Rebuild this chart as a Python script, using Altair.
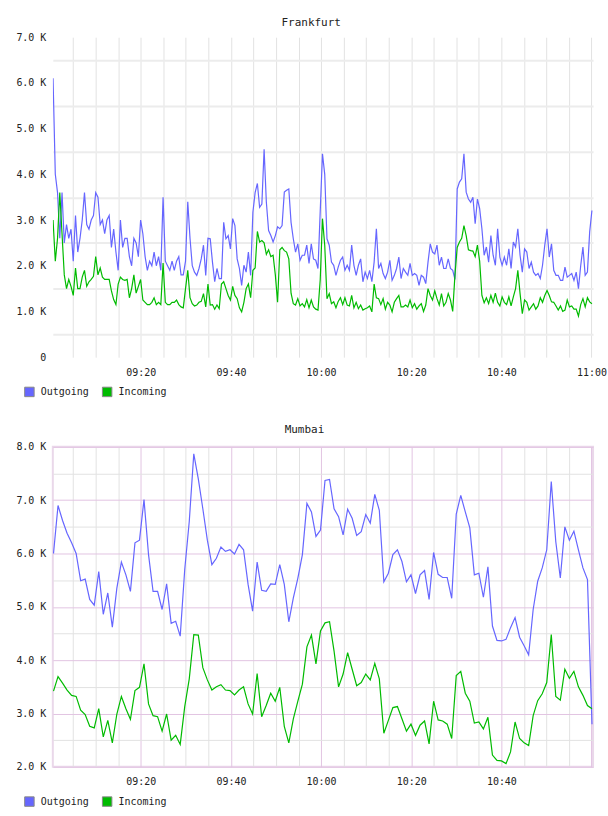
import altair as alt
import pandas as pd

# ---------------- data (values in thousands) ----------------
series_names = ["Outgoing", "Incoming"]
series_colors = ["#6666ff", "#00bb00"]

fra_out = [
    6.1, 4.0, 3.6, 2.6, 3.6, 2.5, 2.9, 2.6, 2.8, 2.1,
    3.1, 2.3, 2.6, 3.0, 3.6, 2.9, 2.8, 3.0, 3.1, 3.6,
    3.5, 2.9, 3.0, 2.7, 3.0, 3.1, 2.4, 2.8, 2.3, 1.9,
    3.0, 2.4, 2.6, 2.6, 2.2, 2.0, 2.6, 2.5, 2.2, 3.0,
    2.7, 2.2, 1.9, 2.1, 2.0, 2.3, 2.0, 2.2, 1.9, 3.5,
    2.1, 2.0, 1.9, 2.1, 1.9, 2.1, 2.2, 1.8, 1.8, 2.1,
    3.4, 2.6, 2.0, 1.86, 1.79, 1.94, 2.15, 2.45, 1.79, 2.6,
    2.59, 2.08, 1.65, 1.94, 1.72, 1.72, 2.95, 2.59, 2.66, 2.37,
    3.03, 2.88, 2.15, 1.94, 1.57, 2.01, 1.86, 2.3, 1.79, 3.17,
    3.6, 3.8, 3.28, 3.35, 4.55, 3.39, 2.77, 2.66, 2.52, 2.66,
    2.85, 2.81, 2.88, 3.61, 3.65, 3.68, 2.95, 2.59, 2.3, 2.48,
    2.12, 2.23, 2.23, 2.45, 2.05, 2.48, 2.15, 2.12, 1.94, 3.2,
    4.45, 4.0, 2.59, 2.45, 2.08, 2.01, 1.79, 1.97, 2.12, 2.19,
    1.9, 2.01, 1.9, 2.45, 2.01, 1.79, 2.01, 2.15, 1.65, 1.86,
    1.72, 1.9, 1.65, 2.08, 2.81, 1.94, 2.05, 1.83, 1.72, 1.86,
    2.12, 1.68, 1.79, 1.94, 2.19, 1.72, 1.94, 1.86, 1.79, 2.05,
    1.79, 1.83, 1.79, 1.57, 1.79, 1.75, 1.61, 2.08, 2.48, 2.3,
    2.26, 2.45, 2.01, 2.19, 1.94, 1.94, 2.15, 1.94, 1.9, 1.7,
    3.68, 3.83, 3.9, 4.45, 3.61, 3.46, 3.39, 3.5, 2.92, 3.46,
    3.25, 2.81, 2.23, 2.41, 2.08, 2.66, 2.23, 2.01, 2.81, 2.19,
    2.01, 2.19, 2.01, 2.37, 1.94, 2.52, 2.41, 2.81, 2.23, 1.86,
    2.37, 2.3, 1.94, 2.08, 1.86, 1.79, 1.83, 1.72, 2.01, 2.45,
    2.81, 2.19, 2.48, 1.9, 1.79, 1.79, 1.68, 1.68, 1.97, 1.75,
    1.79, 1.83, 1.68, 1.86, 1.5, 2.0, 2.41, 1.79, 1.86, 2.74,
    3.21,
]

fra_in = [
    3.0, 2.1, 2.6, 3.6, 2.7, 1.8, 1.5, 1.7, 1.55, 1.35,
    1.95, 1.5, 1.5, 1.75, 1.9, 1.55, 1.65, 1.7, 1.77, 2.2,
    1.8, 1.95, 1.75, 1.7, 1.7, 1.7, 1.45, 1.26, 1.15, 1.6,
    1.75, 1.7, 1.68, 1.7, 1.3, 1.5, 1.8, 1.4, 1.55, 1.7,
    1.25, 1.2, 1.15, 1.15, 1.2, 1.3, 1.15, 1.2, 1.15, 2.06,
    1.2, 1.15, 1.15, 1.2, 1.2, 1.25, 1.15, 1.1, 1.08, 1.5,
    1.9, 1.3, 1.17, 1.12, 1.14, 1.2, 1.22, 1.39, 1.1, 1.6,
    1.14, 1.15, 1.05, 1.14, 1.06, 1.6, 1.65, 1.5, 1.35, 1.25,
    1.55, 1.35, 1.28, 1.08, 0.99, 1.2, 1.5, 1.6, 1.3, 1.9,
    1.95, 2.75, 2.52, 2.55, 2.5, 2.25, 2.35, 2.2, 2.23, 1.8,
    1.2, 2.35, 2.4, 2.33, 2.3, 2.15, 1.4, 1.17, 1.14, 1.28,
    1.12, 1.17, 1.1, 1.26, 1.08, 1.25, 1.1, 1.05, 1.03, 1.7,
    3.03, 2.45, 1.28, 1.39, 1.17, 1.21, 1.08, 1.22, 1.3, 1.15,
    1.3, 1.14, 1.12, 1.35, 1.08, 1.2, 1.06, 1.14, 1.03, 1.06,
    1.08, 1.12, 0.99, 1.6, 1.3, 1.28, 1.15, 1.28, 1.05, 1.2,
    1.14, 0.99, 1.2, 1.28, 1.35, 1.1, 1.1, 1.14, 1.1, 1.25,
    1.08, 1.17, 1.05, 1.12, 1.17, 1.0, 1.14, 1.5, 1.35, 1.25,
    1.45, 1.28, 1.14, 1.39, 1.12, 1.2, 1.39, 1.25, 1.0, 1.8,
    2.4, 2.52, 2.6, 2.88, 2.66, 2.35, 2.33, 2.32, 2.2, 2.45,
    2.1, 1.35, 1.19, 1.3, 1.17, 1.35, 1.2, 1.4, 1.2, 1.12,
    1.32, 1.2, 1.15, 1.32, 1.12, 1.32, 1.5, 1.9, 1.39, 0.95,
    1.25, 1.2, 1.03, 1.1, 1.17, 1.05, 1.12, 1.3, 1.2, 1.35,
    1.46, 1.35, 1.21, 1.2, 1.12, 1.03, 1.12, 1.0, 1.03, 1.25,
    1.1, 1.12, 1.05, 1.05, 0.9, 1.15, 1.28, 1.1, 1.3, 1.21,
    1.17,
]

mum_out = [
    6.0, 6.9, 6.62, 6.38, 6.2, 6.0, 5.49, 5.52, 5.14, 5.03,
    5.66, 4.86, 5.26, 4.62, 5.35, 5.84, 5.6, 5.29, 6.2, 6.25,
    7.01, 5.98, 5.29, 5.29, 4.95, 5.43, 4.69, 4.73, 4.45, 5.7,
    6.6, 7.87, 7.4, 6.84, 6.25, 5.79, 5.91, 6.12, 6.04, 6.07,
    5.99, 6.17, 6.07, 5.42, 4.92, 5.84, 5.31, 5.29, 5.43, 5.42,
    5.79, 5.42, 4.72, 5.17, 5.54, 5.98, 6.94, 6.78, 6.32, 6.44,
    7.37, 7.39, 6.84, 6.69, 6.35, 6.83, 6.66, 6.34, 6.41, 6.73,
    6.57, 7.11, 6.81, 5.47, 5.63, 5.98, 6.07, 5.85, 5.47, 5.6,
    5.25, 5.6, 5.68, 5.14, 6.02, 5.61, 5.55, 5.55, 5.16, 6.74,
    7.09, 6.78, 6.48, 5.6, 5.63, 5.18, 5.75, 4.64, 4.37, 4.36,
    4.39, 4.61, 4.8, 4.43, 4.27, 4.1, 4.95, 5.48, 5.73, 6.07,
    7.35, 6.22, 5.54, 6.5, 6.25, 6.42, 6.07, 5.73, 5.51, 2.8,
]

mum_in = [
    3.42, 3.69, 3.57, 3.44, 3.34, 3.32, 3.06, 2.98, 2.76, 2.73,
    3.09, 2.56, 2.87, 2.45, 2.99, 3.32, 3.09, 2.89, 3.43, 3.49,
    3.93, 3.18, 2.96, 2.94, 2.67, 2.99, 2.5, 2.59, 2.42, 3.13,
    3.65, 4.48, 4.47, 3.86, 3.63, 3.44, 3.5, 3.54, 3.44, 3.43,
    3.35, 3.44, 3.5, 3.18, 2.99, 3.75, 2.94, 3.15, 3.38, 3.23,
    3.49, 2.76, 2.45, 2.9, 3.23, 3.55, 4.25, 4.47, 3.93, 4.55,
    4.7, 4.72, 4.17, 3.5, 3.74, 4.14, 3.83, 3.52, 3.58, 3.74,
    3.63, 3.94, 3.65, 2.63, 2.87, 3.11, 3.13, 2.9, 2.67, 2.8,
    2.59, 2.78, 2.86, 2.43, 3.23, 2.88, 2.86, 2.8, 2.53, 3.71,
    3.79, 3.38, 3.23, 2.82, 2.84, 2.71, 2.93, 2.22, 2.12, 2.11,
    2.06, 2.28, 2.84, 2.53, 2.45, 2.4, 2.96, 3.24, 3.37, 3.58,
    4.48, 3.32, 3.25, 3.83, 3.66, 3.79, 3.5, 3.34, 3.15, 3.09,
]

fra_first, fra_last = "2024-01-01 09:00:33", "2024-01-01 11:00:05"
mum_first, mum_last = "2024-01-01 09:00:39", "2024-01-01 11:00:06"

FONT = "DejaVu Sans Mono"


def dt(h, m, s=0):
    return alt.DateTime(year=2024, month=1, date=1, hours=h, minutes=m, seconds=s)


x_domain = [dt(9, 0, 30), dt(11, 0, 20)]
x_ticks = [dt(9 + mm // 60, mm % 60) for mm in range(5, 121, 5)]

MIN_EXPR = "(hours(datum.value) * 60 + minutes(datum.value))"


def panel(title, first, last, out_vals, in_vals, y_lo, y_hi,
          x_major, x_minor, y_major, y_minor, y_width, last_label_min, view, title_offset):
    n_out, n_in = len(out_vals), len(in_vals)
    df = pd.DataFrame({
        "time": list(pd.date_range(first, last, periods=n_out)) + list(pd.date_range(first, last, periods=n_in)),
        "value": out_vals + in_vals,
        "series": [series_names[0]] * n_out + [series_names[1]] * n_in,
    })
    y_vals = [y_lo + 0.5 * i for i in range(int((y_hi - y_lo) * 2) + 1)]
    x_scale = alt.Scale(domain=x_domain, nice=False)
    y_scale = alt.Scale(domain=[y_lo, y_hi], nice=False, zero=False)
    x_axis = alt.Axis(
        values=x_ticks, title=None, ticks=False, domain=False,
        labelExpr=MIN_EXPR + " % 20 == 0 && " + MIN_EXPR + " <= " + str(last_label_min)
        + " ? timeFormat(datum.value, '%H:%M') : ''",
        labelFont=FONT, labelFontSize=10, labelColor="#222", labelPadding=10,
        labelFlush=False, labelOverlap=False,
        gridColor={"condition": {"test": MIN_EXPR + " % 20 == 0", "value": x_major}, "value": x_minor},
        gridWidth=1,
    )
    y_axis = alt.Axis(
        values=y_vals, title=None, ticks=False, domain=False,
        labelExpr="datum.value % 1 == 0 ? (datum.value == 0 ? '0' : format(datum.value, '.1f') + ' K') : ''",
        labelFont=FONT, labelFontSize=10, labelColor="#222", labelPadding=7,
        labelOverlap=False, labelFlush=False,
        gridColor={"condition": {"test": "datum.value % 1 == 0", "value": y_major}, "value": y_minor},
        gridWidth=y_width,
    )
    color_scale = alt.Scale(domain=series_names, range=series_colors)
    lines = alt.Chart(df).mark_line(strokeWidth=1.2, clip=True).encode(
        x=alt.X("time:T", scale=x_scale, axis=x_axis),
        y=alt.Y("value:Q", scale=y_scale, axis=y_axis),
        color=alt.Color("series:N", scale=color_scale, legend=None),
    )
    key_df = pd.DataFrame({"series": series_names})
    key = alt.Chart(key_df).mark_square(size=0, opacity=1, stroke="#888888", strokeWidth=1, filled=True).encode(
        fill=alt.Fill("series:N", scale=color_scale, sort=series_names, legend=alt.Legend(
            orient="none", legendX=-29, legendY=350, direction="horizontal", title=None,
            symbolType="square", symbolSize=90, symbolStrokeColor="#888888", symbolStrokeWidth=1,
            symbolOpacity=1,
            labelFont=FONT, labelFontSize=10, labelColor="#222", labelOffset=6,
            columnPadding=10, padding=0,
        )),
    )
    return alt.layer(lines, key).properties(
        width=542, height=321,
        title=alt.TitleParams(title, font=FONT, fontSize=11, fontWeight="normal", color="#222",
                              anchor="middle", frame="bounds", offset=title_offset),
        view=view,
    )


top = panel("Frankfurt", fra_first, fra_last, fra_out, fra_in, 0, 7,
            "#e2e2e2", "#e2e2e2", "transparent", "#ececec", 2, 660,
            alt.ViewBackground(stroke="transparent"), 4)
bottom = panel("Mumbai", mum_first, mum_last, mum_out, mum_in, 2, 8,
               "#e2c4e2", "#e2e2e2", "#e2c4e2", "#e2e2e2", 1, 640,
               alt.ViewBackground(stroke="#ead8ea", strokeWidth=2), 7)

chart = alt.vconcat(top, bottom, spacing=23).resolve_scale(fill="independent").properties(
    padding={"left": 14, "top": 15, "right": 0, "bottom": 0},
    background="white",
)

chart.save("out.html", embed_options={"renderer": "svg", "actions": False})
